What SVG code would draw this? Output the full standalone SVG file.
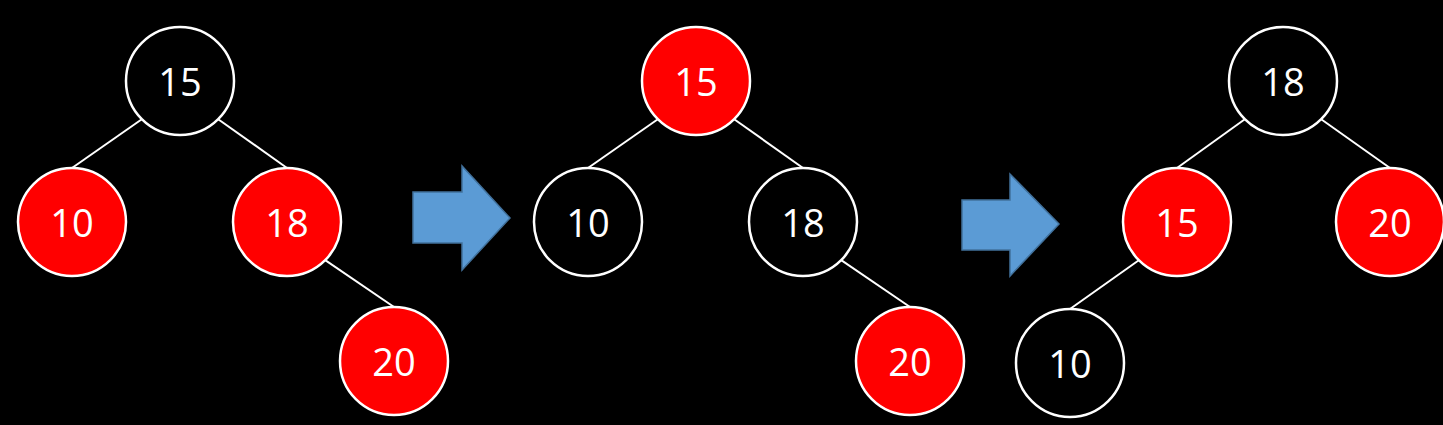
<svg xmlns="http://www.w3.org/2000/svg" width="1443" height="425" viewBox="0 0 1443 425">
<style>
.n circle{stroke:#fff;stroke-width:2.5}
.black circle{fill:#000}
.red circle{fill:#ff0000}
.n text{fill:#fff;font-family:"Open Sans","Liberation Sans",sans-serif;font-size:38px;text-anchor:middle;dominant-baseline:central}
#edges line{stroke:#fff;stroke-width:2}
.arrow{fill:#5b9bd5;stroke:#41719c;stroke-width:1.5}
</style>
<rect width="1443" height="425" fill="#000"/>
<g id="edges">
<line x1="141.8" y1="119.2" x2="72" y2="168"/>
<line x1="218.2" y1="119.2" x2="287" y2="168"/>
<line x1="325.2" y1="260.2" x2="394" y2="307"/>
<line x1="657.8" y1="119.2" x2="588" y2="168"/>
<line x1="734.2" y1="119.2" x2="803" y2="168"/>
<line x1="841.2" y1="260.2" x2="910" y2="307"/>
<line x1="1244.8" y1="119.2" x2="1177" y2="168"/>
<line x1="1321.2" y1="119.2" x2="1390" y2="168"/>
<line x1="1138.8" y1="260.2" x2="1070" y2="309"/>
</g>
<g id="arrow1"><polygon class="arrow" points="413,192 462,192 462,166 510,218 462,270 462,243 413,243"/></g>
<g id="arrow2"><polygon class="arrow" points="962,200 1010,200 1010,174 1059,224 1010,276 1010,250 962,250"/></g>
<g id="t1n15" class="n black"><circle cx="180" cy="81" r="54"/><text x="180" y="81">15</text></g>
<g id="t1n10" class="n red"><circle cx="72" cy="222" r="54"/><text x="72" y="222">10</text></g>
<g id="t1n18" class="n red"><circle cx="287" cy="222" r="54"/><text x="287" y="222">18</text></g>
<g id="t1n20" class="n red"><circle cx="394" cy="361" r="54"/><text x="394" y="361">20</text></g>
<g id="t2n15" class="n red"><circle cx="696" cy="81" r="54"/><text x="696" y="81">15</text></g>
<g id="t2n10" class="n black"><circle cx="588" cy="222" r="54"/><text x="588" y="222">10</text></g>
<g id="t2n18" class="n black"><circle cx="803" cy="222" r="54"/><text x="803" y="222">18</text></g>
<g id="t2n20" class="n red"><circle cx="910" cy="361" r="54"/><text x="910" y="361">20</text></g>
<g id="t3n18" class="n black"><circle cx="1283" cy="81" r="54"/><text x="1283" y="81">18</text></g>
<g id="t3n15" class="n red"><circle cx="1177" cy="222" r="54"/><text x="1177" y="222">15</text></g>
<g id="t3n20" class="n red"><circle cx="1390" cy="222" r="54"/><text x="1390" y="222">20</text></g>
<g id="t3n10" class="n black"><circle cx="1070" cy="363" r="54"/><text x="1070" y="363">10</text></g>
</svg>
